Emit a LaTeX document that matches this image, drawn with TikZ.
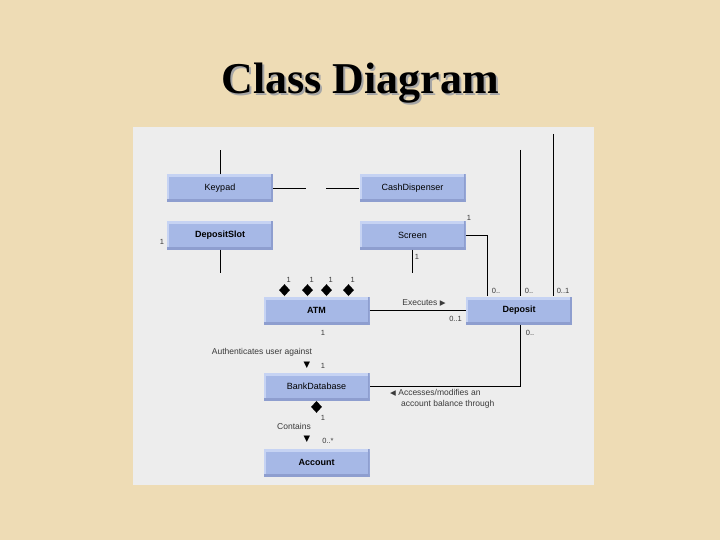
\documentclass[tikz,border=0pt]{standalone}
\usepackage{fontspec}
\setmainfont{Liberation Serif}
\newfontfamily\umlfont{Liberation Sans}
\newfontfamily\symfont{DejaVu Sans}
\usetikzlibrary{shapes.geometric}
\definecolor{parchment}{HTML}{EEDCB5}
\definecolor{panelgray}{HTML}{EDEDED}
\definecolor{boxblue}{HTML}{A6B8E6}
\definecolor{boxlight}{HTML}{C6D3F3}
\definecolor{boxdark}{HTML}{8E9ECF}
\definecolor{labelgray}{HTML}{3A3A3A}
\tikzset{
  classbox/.style={rectangle, fill=boxblue, minimum width=106pt, minimum height=28pt, inner sep=0pt,
    font=\umlfont\fontsize{9}{10}\selectfont,
    path picture={
      \fill[boxlight] (path picture bounding box.north west) rectangle ([xshift=2pt]path picture bounding box.south west);
      \fill[boxlight] (path picture bounding box.north west) rectangle ([yshift=-3pt]path picture bounding box.north east);
      \fill[boxdark] (path picture bounding box.south east) rectangle ([xshift=-2pt]path picture bounding box.north east);
      \fill[boxdark] (path picture bounding box.south west) rectangle ([yshift=3pt]path picture bounding box.south east);
    }},
  boldbox/.style={classbox, font=\umlfont\bfseries\fontsize{9}{10}\selectfont},
  mult/.style={font=\umlfont\fontsize{7.5}{8}\selectfont, text=labelgray, inner sep=1pt},
  rolename/.style={font=\umlfont\fontsize{8.5}{10.5}\selectfont, text=labelgray, inner sep=1pt, align=left},
  agg/.style={diamond, fill=black, inner sep=0pt, minimum width=11pt, minimum height=12pt},
  assoc/.style={draw=black, line width=0.8pt},
  titletext/.style={font=\bfseries\fontsize{44}{50}\selectfont, anchor=base, inner sep=0pt},
}
\begin{document}
\begin{tikzpicture}[x=1pt,y=-1pt]
\fill[parchment] (0,0) rectangle (720,540);
\useasboundingbox (0,0) rectangle (720,540);
% title with its shadow
\node[titletext, text=black!35] (titleshadow) at (362,95.5) {Class Diagram};
\node[titletext] (title) at (360,93.5) {Class Diagram};
\fill[panelgray] (133,127) rectangle (594,485);

% classes
\node[classbox] (keypad) at (220,188.5) {Keypad};
\node[classbox] (cash) at (412.5,188.5) {CashDispenser};
\node[boldbox] (slot) at (220,235.5) {DepositSlot};
\node[classbox] (screen) at (412.5,235.5) {Screen};
\node[boldbox] (atm) at (316.5,310.5) {ATM};
\node[boldbox] (deposit) at (519,310.5) {Deposit};
\node[classbox] (bank) at (316.5,386.5) {BankDatabase};
\node[boldbox] (account) at (316.5,462.5) {Account};

% loose ends
\coordinate (keypadend) at (220,150);
\coordinate (gapl) at (306,188.5);
\coordinate (gapr) at (326,188.5);
\coordinate (slotend) at (220,273);
\coordinate (screenend) at (412.5,273);
\coordinate (depa) at (520,150);
\coordinate (depb) at (553,134);

% associations
\draw[assoc] (keypad.north) -- (keypadend);
\draw[assoc] (keypad.east) -- (gapl);
\draw[assoc] (gapr) -- (cash.west);
\draw[assoc] (slot.south) -- (slotend);
\draw[assoc] (screen.south) -- (screenend);
\draw[assoc] (screen.east) -| ([xshift=22pt]deposit.north west);
\draw[assoc] (depa) -- (depa |- deposit.north);
\draw[assoc] (depb) -- (depb |- deposit.north);
\draw[assoc] (atm.east) -- (deposit.west);
\draw[assoc] (depa |- deposit.south) |- (bank.east);

% compositions on ATM
\foreach \dx [count=\i] in {-32,-9,10,32} {
  \node[agg, anchor=south] (agg\i) at ([xshift=\dx pt]atm.north) {};
  \node[mult, anchor=south west] (aggm\i) at ([xshift=1pt]agg\i.north) {1};
}
\node[agg, anchor=north] (bankagg) at (bank.south) {};

% multiplicities
\node[mult] (slotm) at (162,242) {1};
\node[mult, anchor=south west] (screenm) at (screen.north east) {1};
\node[mult] (screenbm) at (417,257) {1};
\node[mult] (depm1) at (496,291) {0..};
\node[mult] (depm2) at (529,291) {0..};
\node[mult] (depm3) at (563,291) {0..1};
\node[mult] (depm4) at (530,333) {0..};
\node[mult, anchor=east] (exem) at (463,319) {0..1};
\node[mult] (atmm) at (323,333) {1};
\node[mult] (bankm) at (323,366) {1};
\node[mult] (bankbm) at (323,418) {1};
\node[mult] (accm) at (328,441) {0..*};

% association names
\node[rolename] (executes) at (424,303) {Executes {\symfont\fontsize{7.5}{8}\selectfont▶}};
\node[rolename] (auth) at (262,352) {Authenticates user against};
\node[font=\symfont\fontsize{8.5}{9}\selectfont, inner sep=0pt] (authdir) at (307,365) {▼};
\node[rolename, anchor=north west] (accesses) at (389,388.5) {{\symfont\fontsize{7.5}{8}\selectfont◀} Accesses/modifies an\\\hspace*{11pt}account balance through};
\node[rolename] (contains) at (294,426) {Contains};
\node[font=\symfont\fontsize{8.5}{9}\selectfont, inner sep=0pt] (contdir) at (307,439) {▼};
\end{tikzpicture}
\end{document}
